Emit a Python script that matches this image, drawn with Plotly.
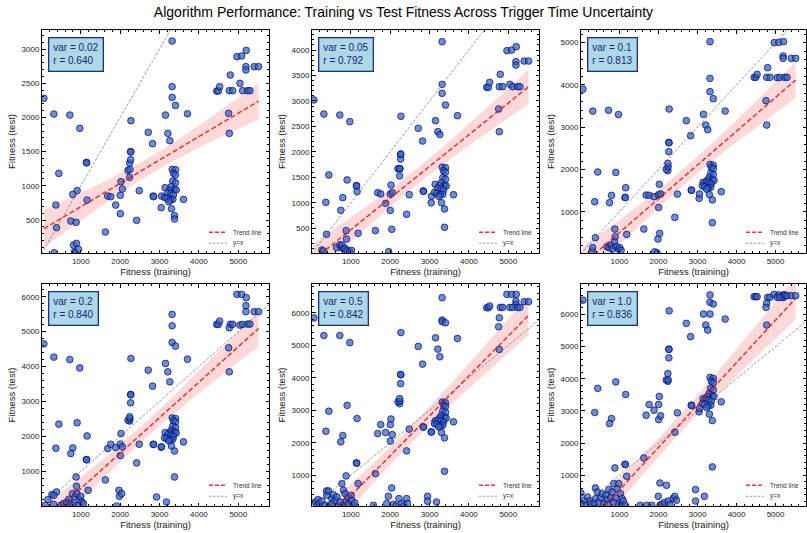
import numpy as np
import plotly.graph_objects as go

W, H = 807, 533

variance_labels = ["0.02", "0.05", "0.1", "0.2", "0.5", "1.0"]
r_labels = ["0.640", "0.792", "0.813", "0.840", "0.842", "0.836"]

# training fitness of the points that appear in every panel
train_main = [63, 316, 721, 975, 443, 907, 367, 384, 797, 747,
              882, 1143, 1150, 1160, 1624, 1684, 1760, 1886, 2004, 2004,
              2021, 2055, 2240, 2198, 2249, 2240, 2266, 2266, 2270, 2274,
              2418, 2485, 2713, 2823, 2840, 2848, 3042, 3050, 3152, 3143,
              3211, 3262, 3320, 3320, 3320, 3405, 3709, 3608,
              3322, 3405, 3354, 3405, 3337, 3405, 3296, 3380, 3253, 3423,
              3210, 3296, 3354, 3127, 3185, 3337, 3271, 3235, 3304, 3380,
              3380,
              4451, 4494, 4527, 4797, 4772, 4857, 4966, 5084, 5203, 5194,
              5194, 5042, 5110, 5236, 5295, 5405, 5515, 4755, 4772]

test_var002 = [2280, 2050, 2035, 1840, 1182, 930, 720, 388, 875, 485,
               466, 1343, 1335, 792, 325, 851, 841, 719, 861, 593,
               1060, 953, 1124, 1226, 1240, 1333, 1382, 1500, 1495, 1952,
               495, 929, 1782, 1616, 851, 841, 680, 851, 2035, 973,
               1767, 1660, 3117, 2449, 2293, 2176, 2054, 802,
               1241, 1236, 1183, 1158, 1070, 1045, 987, 949, 939, 939,
               899, 890, 865, 832, 817, 803, 792, 768, 665, 563,
               515,
               2386, 2386, 2449, 2620, 2391, 2391, 2888, 2898, 2980, 2742,
               2693, 2498, 2391, 2391, 2391, 2742, 2742, 2060, 1767]

test_var005 = [3020, 2744, 2724, 2593, 1547, 1450, 1010, 382, 1102, 853,
               454, 1337, 1330, 1220, 454, 1200, 1174, 990, 1170, 850,
               1350, 1200, 1530, 1670, 1670, 1670, 1860, 1950, 1960, 2700,
               775, 1160, 2463, 2214, 1233, 1225, 1000, 1130, 2613, 1364,
               2397, 2340, 4163, 3326, 3150, 2920, 2711, 1160,
               1700, 1690, 1630, 1600, 1493, 1463, 1393, 1347, 1335, 1330,
               1287, 1275, 1245, 1206, 1188, 1170, 1157, 1128, 1003, 880,
               520,
               3267, 3267, 3365, 3522, 3280, 3280, 3987, 4000, 4065, 3771,
               3705, 3326, 3280, 3280, 3280, 3784, 3784, 2842, 2397]

test_var01 = [3900, 3380, 3400, 3300, 1940, 1930, 1237, 385, 1387, 1213,
              590, 1340, 1333, 1568, 590, 1394, 1390, 1355, 1400, 1100,
              1650, 1420, 1970, 2002, 2065, 2144, 2420, 2640, 2630, 3430,
              866, 1418, 3154, 2799, 1513, 1505, 1316, 1420, 3304, 1694,
              3051, 2941, 5024, 4156, 3840, 3675, 3383, 1473,
              2120, 2100, 2048, 2018, 1908, 1877, 1805, 1758, 1746, 1740,
              1697, 1685, 1654, 1613, 1595, 1577, 1564, 1534, 1406, 1280,
              740,
              4180, 4180, 4250, 4408, 4180, 4180, 5000, 5008, 5024, 4684,
              4629, 4172, 4180, 4180, 4180, 4629, 4629, 3627, 3051]

test_var02 = [4650, 4270, 4200, 3960, 2350, 2390, 1660, 407, 1669, 1507,
              837, 1335, 1328, 2013, 751, 1650, 1774, 1679, 1780, 1450,
              2080, 1700, 2440, 2460, 2510, 2560, 2960, 3200, 3190, 4230,
              1239, 1774, 3897, 3438, 1774, 1768, 1690, 1700, 4088, 2109,
              3849, 3562, 5493, 5168, 4690, 4585, 4212, 1841,
              2530, 2510, 2448, 2414, 2291, 2255, 2174, 2121, 2107, 2100,
              2051, 2038, 2003, 1957, 1936, 1916, 1901, 1867, 1723, 1580,
              837,
              5207, 5207, 5302, 5210, 5110, 5210, 6067, 6067, 5971, 5742,
              5570, 5187, 5207, 5216, 5216, 5570, 5570, 4537, 3849]

test_var05 = [5840, 5300, 5300, 5080, 2970, 3150, 2355, 517, 2222, 2027,
              980, 1380, 1372, 2745, 1051, 2283, 2560, 2314, 2560, 2050,
              2730, 2250, 3200, 3260, 3280, 3360, 3820, 4100, 4090, 5390,
              1750, 2420, 4963, 4419, 2489, 2480, 2335, 2330, 5230, 2674,
              4881, 4645, 6462, 5774, 5723, 5692, 5209, 2643,
              3250, 3230, 3155, 3116, 2973, 2932, 2838, 2776, 2761, 2755,
              2696, 2680, 2640, 2587, 2563, 2539, 2522, 2482, 2315, 2150,
              1123,
              6154, 6154, 6205, 6164, 5846, 6164, 6565, 6565, 6565, 6359,
              6256, 6164, 6164, 6164, 6164, 6339, 6339, 5569, 4871]

test_var10 = [6440, 6100, 6050, 5790, 3700, 3900, 2950, 606, 2763, 2608,
              1228, 1342, 1335, 3510, 1539, 2867, 3199, 3023, 3200, 2730,
              3450, 2850, 3920, 3960, 3970, 4160, 4650, 4920, 4910, 6110,
              2340, 2940, 5720, 5305, 3178, 3170, 2971, 3075, 6010, 3386,
              5668, 5512, 6602, 6373, 6010, 6322, 5855, 3282,
              4040, 4010, 3925, 3877, 3702, 3653, 3538, 3462, 3444, 3440,
              3365, 3346, 3296, 3232, 3203, 3174, 3153, 3105, 2901, 2700,
              1259,
              6549, 6549, 6549, 6529, 6342, 6529, 6622, 6602, 6602, 6549,
              6520, 6529, 6529, 6602, 6580, 6580, 6580, 6218, 5668]

# low-test points (bottom of each panel)
low_train_var002 = [324, 815, 840, 860, 891, 942]
low_test_var002 = [22, 134, 36, 18, 159, 72]

low_train_var005 = [266, 300, 637, 721, 764, 772, 823, 856, 890, 907, 975, 1017, 1186, 1962, 2040]
low_test_var005 = [74, 55, 121, 173, 121, 172, 95, 107, 290, 62, 42, 68, 402, 42, 480]

low_train_var01 = [300, 316, 679, 738, 789, 823, 873, 890, 924, 975, 1008, 1042, 1186, 1903, 1962, 1987, 2030]
low_test_var01 = [69, 148, 172, 148, 211, 117, 290, 408, 172, 117, 148, 85, 463, 53, 22, 353, 487]

low_train_var02 = [96, 165, 266, 309, 316, 501, 562, 646, 700, 754, 790, 815, 856, 891,
                   899, 942, 957, 1000, 1025, 1068, 1186, 1911, 1970, 1980, 2038, 2924, 3177]
low_test_var02 = [25, 188, 332, 54, 310, 25, 74, 120, 200, 74, 360, 25, 263, 570,
                  360, 25, 188, 280, 120, 74, 455, 5, 455, 283, 360, 263, 120]

low_train_var05 = [96, 139, 165, 200, 266, 350, 392, 435, 450, 519,
                   519, 560, 603, 646, 700, 730, 772, 815, 815, 856,
                   880, 924, 942, 1008, 1025, 1068, 1100, 1186, 1575, 1911,
                   1954, 2038, 2081, 2150, 2224, 2291, 2350, 2418, 2443, 2949,
                   2949, 3177]
low_test_var05 = [177, 76, 251, 130, 208, 76, 384, 516, 60, 282,
                  128, 400, 230, 332, 60, 177, 744, 538, 76, 436,
                  200, 313, 107, 384, 230, 76, 150, 743, 76, 128,
                  353, 609, 107, 60, 282, 128, 60, 282, 128, 353,
                  200, 177]

low_train_var10 = [13, 56, 96, 150, 182, 250, 266, 350, 392, 435,
                   476, 520, 562, 603, 650, 689, 700, 729, 780, 815,
                   856, 856, 900, 942, 982, 982, 1025, 1050, 1068, 1100,
                   1152, 1186, 1532, 1701, 1828, 1995, 2038, 2038, 2081, 2150,
                   2207, 2248, 2291, 2375, 2418, 2461, 2949, 2949, 3177]
low_test_var10 = [449, 119, 222, 60, 325, 200, 98, 150, 275, 482,
                  169, 300, 431, 119, 380, 244, 100, 555, 300, 482,
                  742, 169, 300, 586, 742, 98, 431, 80, 275, 200,
                  67, 969, 67, 67, 67, 347, 760, 67, 98, 150,
                  689, 200, 88, 275, 347, 222, 555, 200, 347]

# regression lines (intercept, slope)
trend_intercepts = [352, -151, -293, -513, -860, -774]
trend_slopes = [0.342, 0.622, 0.7995, 1.016, 1.229, 1.319]

x_limits = [15, 5780]
y_limits = [[18, 3278], [15, 4393], [23, 5300], [5, 6364], [54, 6884], [45, 6943]]
y_major_step = [500, 500, 1000, 1000, 1000, 1000]

tests = [test_var002, test_var005, test_var01, test_var02, test_var05, test_var10]
low_trains = [low_train_var002, low_train_var005, low_train_var01,
              low_train_var02, low_train_var05, low_train_var10]
low_tests = [low_test_var002, low_test_var005, low_test_var01,
             low_test_var02, low_test_var05, low_test_var10]

# layout (pixels)
cols_px = [(42, 269), (312, 539), (581, 806)]
rows_px = [(30, 253), (284, 506)]
FONT = "Liberation Sans, Arial, Helvetica, sans-serif"

fig = go.Figure()
shapes = []
annotations = []

for i in range(6):
    r, c = divmod(i, 3)
    sfx = "" if i == 0 else str(i + 1)
    xa, ya = "x" + sfx, "y" + sfx
    xs = np.array(train_main + low_trains[i], dtype=float)
    ys = np.array(tests[i] + low_tests[i], dtype=float)

    # spread of the data about its own least-squares fit -> confidence band width
    ols_b, ols_a = np.polyfit(xs, ys, 1)
    n = len(xs)
    xm = xs.mean()
    sxx = ((xs - xm) ** 2).sum()
    resid = ys - (ols_b * xs + ols_a)
    s = np.sqrt((resid ** 2).sum() / (n - 2))

    slope, intercept = trend_slopes[i], trend_intercepts[i]
    xg = np.linspace(xs.min(), xs.max(), 120)
    yg = slope * xg + intercept
    hw = 1.97 * s * np.sqrt(1.0 / n + (xg - xm) ** 2 / sxx)

    fig.add_trace(go.Scatter(
        x=np.concatenate([xg, xg[::-1]]), y=np.concatenate([yg + hw, (yg - hw)[::-1]]),
        fill="toself", fillcolor="rgba(255,0,0,0.15)", line=dict(width=0),
        mode="lines", hoverinfo="skip", showlegend=False, xaxis=xa, yaxis=ya))
    fig.add_trace(go.Scatter(
        x=xs, y=ys, mode="markers",
        marker=dict(size=6.7, color="rgba(50,100,190,0.72)",
                    line=dict(color="rgba(0,0,110,0.85)", width=0.8)),
        showlegend=False, xaxis=xa, yaxis=ya))
    fig.add_trace(go.Scatter(
        x=xg, y=yg, mode="lines",
        line=dict(color="rgba(255,0,0,0.8)", width=1.5, dash="5px,2.5px"),
        showlegend=False, xaxis=xa, yaxis=ya))
    lim = max(x_limits[1], y_limits[i][1]) * 1.1
    fig.add_trace(go.Scatter(
        x=[0, lim], y=[0, lim], mode="lines",
        line=dict(color="rgba(90,90,90,0.75)", width=0.8, dash="3px,1.5px"),
        showlegend=False, xaxis=xa, yaxis=ya))

    x0p, x1p = cols_px[c]
    y0p, y1p = rows_px[r]
    pw, ph = x1p - x0p, y1p - y0p
    axis_common = dict(showline=True, linecolor="black", linewidth=1, mirror="allticks",
                       ticks="inside", ticklen=3.5, tickwidth=0.8, tickcolor="black",
                       showgrid=False, zeroline=False,
                       tickfont=dict(size=8, color="#222", family=FONT))
    fig.layout["xaxis" + sfx] = dict(
        axis_common, domain=[x0p / W, x1p / W], anchor=ya, range=x_limits,
        tick0=0, dtick=1000,
        minor=dict(ticks="inside", ticklen=2, tickwidth=0.6, dtick=200, tickcolor="black"),
        title=dict(text="Fitness (training)", font=dict(size=9.5, color="#222", family=FONT), standoff=3))
    fig.layout["yaxis" + sfx] = dict(
        axis_common, domain=[1 - y1p / H, 1 - y0p / H], anchor=xa, range=y_limits[i],
        tick0=0, dtick=y_major_step[i],
        minor=dict(ticks="inside", ticklen=2, tickwidth=0.6, dtick=y_major_step[i] / 5, tickcolor="black"),
        title=dict(text="Fitness (test)", font=dict(size=9.5, color="#222", family=FONT), standoff=4))

    annotations.append(dict(
        text=f"var = {variance_labels[i]}<br>r = {r_labels[i]}",
        xref=xa + " domain", yref=ya + " domain", x=6 / pw, y=1 - 7 / ph,
        xanchor="left", yanchor="top", align="left", showarrow=False,
        bgcolor="#add8e6", bordercolor="#1f2d8a", borderwidth=1.3, borderpad=4,
        font=dict(size=10, color="#1a237e", family=FONT)))

    for k, (label, col, wdt, dash, off) in enumerate([
            ("Trend line", "rgba(255,0,0,0.8)", 1.5, "4px,2px", 20.7),
            ("y=x", "rgba(90,90,90,0.75)", 0.8, "2.5px,1.5px", 9.7)]):
        shapes.append(dict(type="line", xref=xa + " domain", yref=ya + " domain",
                           x0=(pw - 60) / pw, x1=(pw - 42) / pw, y0=off / ph, y1=off / ph,
                           line=dict(color=col, width=wdt, dash=dash)))
        annotations.append(dict(text=label, xref=xa + " domain", yref=ya + " domain",
                                x=(pw - 38) / pw, y=off / ph, xanchor="left", yanchor="middle",
                                showarrow=False, font=dict(size=6.5, color="#333", family=FONT)))

fig.update_layout(
    width=W, height=H, margin=dict(l=0, r=0, t=0, b=0),
    paper_bgcolor="white", plot_bgcolor="white",
    title=dict(text="Algorithm Performance: Training vs Test Fitness Across Trigger Time Uncertainty",
               x=0.5, xanchor="center", y=1 - 12 / H, yanchor="middle",
               font=dict(size=14, color="black", family=FONT)),
    shapes=shapes, annotations=annotations, showlegend=False)

fig.write_html("out.html")
